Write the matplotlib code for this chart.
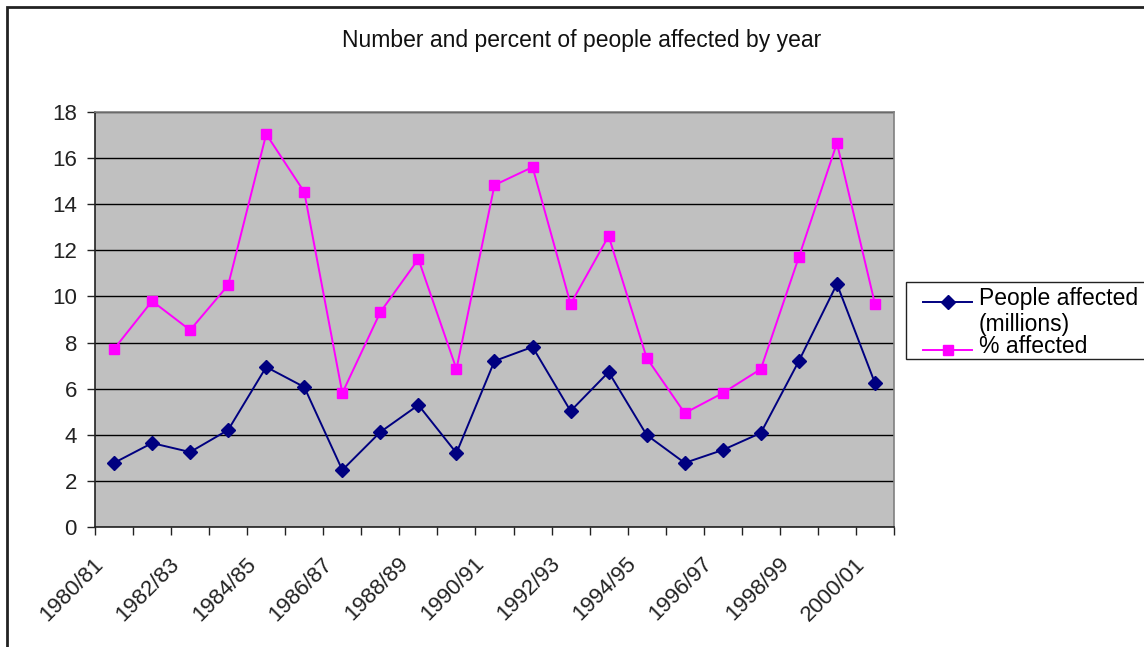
import numpy as np
import matplotlib.pyplot as plt
from matplotlib.lines import Line2D
from matplotlib.patches import Rectangle
import matplotlib.transforms as mtransforms

plt.rcParams['font.family'] = ['Liberation Sans', 'DejaVu Sans']

years = ['1980/81', '1981/82', '1982/83', '1983/84', '1984/85', '1985/86',
         '1986/87', '1987/88', '1988/89', '1989/90', '1990/91', '1991/92',
         '1992/93', '1993/94', '1994/95', '1995/96', '1996/97', '1997/98',
         '1998/99', '1999/00', '2000/01']
people_millions = [2.78, 3.64, 3.25, 4.21, 6.94, 6.07, 2.47, 4.12, 5.29, 3.21,
                   7.20, 7.81, 5.03, 6.72, 3.99, 2.78, 3.34, 4.08, 7.20, 10.54,
                   6.24]
pct_affected = [7.72, 9.80, 8.54, 10.49, 17.04, 14.53, 5.81, 9.32, 11.62, 6.85,
                14.83, 15.61, 9.67, 12.62, 7.33, 4.94, 5.81, 6.85, 11.71, 16.65,
                9.67]

navy = '#000080'
pink = '#FF00FF'

W, H = 1144, 647
fig = plt.figure(figsize=(W / 100, H / 100), dpi=100)
ax = fig.add_axes([95 / W, 1 - 527 / H, 799 / W, 415 / H])
ax.set_facecolor('#C0C0C0')

x = np.arange(len(years))
ax.plot(x, people_millions, color=navy, lw=1.4, marker='D', ms=7,
        mfc=navy, mec=navy, zorder=3)
ax.plot(x, pct_affected, color=pink, lw=1.4, marker='s', ms=7.5,
        mfc=pink, mec=pink, zorder=3)

ax.set_xlim(-0.5, len(years) - 0.5)
ax.set_ylim(0, 18)
ax.set_yticks(np.arange(0, 19, 2))
ax.yaxis.grid(True, color='black', lw=1)
ax.set_axisbelow(True)
ax.tick_params(axis='y', labelsize=16, length=6, width=1, pad=7,
               colors='#222222')

# boundary ticks between categories, labels on every other category
ax.set_xticks(np.arange(-0.5, len(years)), minor=False)
ax.set_xticklabels([])
ax.set_xticks(x[::2], minor=True)
ax.set_xticklabels(years[::2], minor=True, rotation=45, ha='right',
                   va='top', fontsize=16, color='#222222')
ax.tick_params(axis='x', which='major', length=6, width=1, colors='#222222')
ax.tick_params(axis='x', which='minor', length=0, pad=19)
offset = mtransforms.ScaledTranslation(-6 / 100, 0, fig.dpi_scale_trans)
for lbl in ax.get_xticklabels(minor=True):
    lbl.set_transform(lbl.get_transform() + offset)

for side in ['left', 'bottom']:
    ax.spines[side].set_color('#222222')
    ax.spines[side].set_linewidth(1.2)
for side in ['top', 'right']:
    ax.spines[side].set_color('#808080')
    ax.spines[side].set_linewidth(1.2)

fig.text(582 / W, 1 - 40 / H, 'Number and percent of people affected by year',
         ha='center', va='center', fontsize=16.5, color='#111111')

# chart-area border
fig.add_artist(Rectangle((7 / W, -0.1), 1.2, 1 - 7 / H + 0.1,
                         transform=fig.transFigure, fill=False,
                         edgecolor='#222222', lw=2))

# legend box
fig.add_artist(Rectangle((906 / W, 1 - 359 / H), 300 / W, 77 / H,
                         transform=fig.transFigure, facecolor='white',
                         edgecolor='#222222', lw=1))
fig.add_artist(Line2D([923 / W, 972 / W], [1 - 302 / H] * 2,
                      transform=fig.transFigure, color=navy, lw=1.4, zorder=5))
fig.add_artist(Line2D([947.5 / W], [1 - 302 / H], transform=fig.transFigure,
                      color=navy, marker='D', ms=7, lw=0, zorder=6))
fig.add_artist(Line2D([923 / W, 972 / W], [1 - 350 / H] * 2,
                      transform=fig.transFigure, color=pink, lw=1.4, zorder=5))
fig.add_artist(Line2D([947.5 / W], [1 - 350 / H], transform=fig.transFigure,
                      color=pink, marker='s', ms=7.5, lw=0, zorder=6))
fig.text(979 / W, 1 - 298 / H, 'People affected', ha='left', va='center',
         fontsize=16.5)
fig.text(979 / W, 1 - 325 / H, '(millions)', ha='left', va='center',
         fontsize=16.5)
fig.text(979 / W, 1 - 347 / H, '% affected', ha='left', va='center',
         fontsize=16.5)

fig.savefig('out.png', dpi=100)
